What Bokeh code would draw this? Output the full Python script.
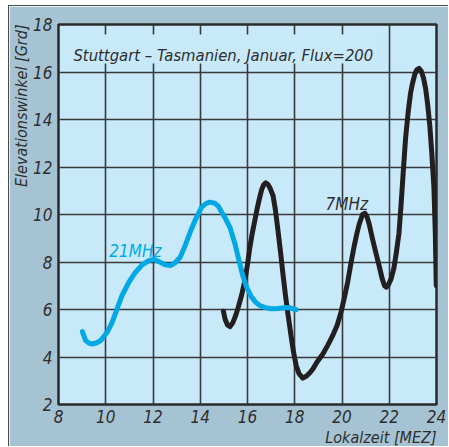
import math
from bokeh.plotting import figure
from bokeh.models import Label, BoxAnnotation, FixedTicker, Title
from bokeh.embed import file_html
from bokeh.resources import INLINE

# ---- data ----
x_ticks = [8, 10, 12, 14, 16, 18, 20, 22, 24]
y_ticks = [2, 4, 6, 8, 10, 12, 14, 16, 18]

mhz21_x = [9.01, 9.15, 9.3, 9.46, 9.62, 9.78, 10.06, 10.27, 10.48, 10.69, 10.98, 11.26, 11.54,
           11.82, 12.03, 12.24, 12.52, 12.73, 12.94, 13.15, 13.36, 13.57, 13.78, 14.06, 14.25,
           14.41, 14.6, 14.76, 14.905, 15.08, 15.26, 15.47, 15.64, 15.78, 15.96, 16.17, 16.35,
           16.52, 16.75, 17.01, 17.3, 17.57, 17.8, 18.06]
mhz21_y = [5.07, 4.69, 4.58, 4.55, 4.6, 4.69, 5.04, 5.46, 6.03, 6.59, 7.15, 7.57, 7.88,
           8.06, 8.11, 8.02, 7.88, 7.85, 7.97, 8.2, 8.69, 9.25, 9.75, 10.31, 10.47,
           10.52, 10.48, 10.36, 10.1, 9.8, 9.45, 8.77, 8.06, 7.5, 6.94, 6.52, 6.3,
           6.17, 6.08, 6.03, 6.04, 6.08, 6.07, 5.99]

mhz7_x = [14.98, 15.05, 15.15, 15.26, 15.38, 15.5, 15.61, 15.75, 15.89, 16.0, 16.1, 16.2,
          16.31, 16.42, 16.52, 16.6, 16.68, 16.77, 16.86, 16.95, 17.08, 17.18, 17.29, 17.4,
          17.5, 17.6, 17.71, 17.85, 17.95, 18.06, 18.18, 18.34, 18.5, 18.65, 18.77, 18.95,
          19.19, 19.4, 19.61, 19.8, 19.96, 20.1, 20.24, 20.38, 20.52, 20.63, 20.73, 20.87,
          20.97, 21.06, 21.15, 21.29, 21.43, 21.57, 21.7, 21.8, 21.88, 21.97, 22.08, 22.2,
          22.3, 22.41, 22.5, 22.6, 22.69, 22.8, 22.9, 22.98, 23.08, 23.17, 23.26, 23.35,
          23.45, 23.54, 23.63, 23.72, 23.8, 23.89, 23.95, 23.99]
mhz7_y = [5.93, 5.6, 5.35, 5.28, 5.45, 5.75, 6.1, 6.6, 7.22, 7.9, 8.62, 9.2,
          9.75, 10.3, 10.73, 11.05, 11.25, 11.33, 11.27, 11.12, 10.8, 10.2, 9.33, 8.4,
          7.5, 6.65, 5.82, 4.85, 4.2, 3.64, 3.3, 3.11, 3.2, 3.35, 3.5, 3.8,
          4.13, 4.5, 4.91, 5.35, 5.89, 6.5, 7.15, 7.95, 8.69, 9.2, 9.6, 10.0,
          10.05, 9.9, 9.6, 8.98, 8.4, 7.85, 7.3, 7.0, 6.94, 7.05, 7.3, 7.75,
          8.4, 9.2, 10.4, 11.9, 13.2, 14.3, 15.1, 15.5, 15.9, 16.1, 16.15, 16.05,
          15.75, 15.3, 14.6, 13.7, 12.6, 11.15, 9.2, 7.0]

title_text = "Stuttgart \u2013 Tasmanien, Januar, Flux=200"
xlabel = "Lokalzeit [MEZ]"
ylabel = "Elevationswinkel [Grd]"
label21 = "21MHz"
label7 = "7MHz"

FONT = "DejaVu Sans Condensed"
OUTER = "#a6c3d3"
INNER = "#c8e9f9"
BLUE = "#00a8e6"
BLACK = "#231f20"
TXT = "#2e2e2e"

p = figure(width=440, height=441, x_range=(8, 24), y_range=(2, 18),
           output_backend="svg", toolbar_location=None,
           min_border_left=47, min_border_right=13, min_border_top=18, min_border_bottom=43)
p.styles = {"margin-left": "8px", "margin-top": "5px",
            "border-left": "1px solid #4a4a4a", "border-top": "1px solid #4a4a4a"}
p.background_fill_color = INNER
p.border_fill_color = OUTER
p.outline_line_color = "#2a2a2a"
p.outline_line_width = 2.5

for ax in (p.xaxis[0], p.yaxis[0]):
    ax.axis_line_color = None
    ax.major_tick_line_color = None
    ax.minor_tick_line_color = None
    ax.major_tick_out = 0
    ax.major_tick_in = 0
    ax.minor_tick_out = 0
    ax.minor_tick_in = 0
    ax.major_label_text_font = FONT
    ax.major_label_text_font_style = "italic"
    ax.major_label_text_font_size = "17px"
    ax.major_label_text_color = TXT
p.xaxis[0].ticker = FixedTicker(ticks=x_ticks)
p.yaxis[0].ticker = FixedTicker(ticks=y_ticks)
p.xaxis[0].major_label_standoff = 5
p.yaxis[0].major_label_standoff = 6

p.grid.grid_line_color = "#3a3a3a"
p.grid.grid_line_width = 1.6
p.xgrid[0].ticker = FixedTicker(ticks=x_ticks)
p.ygrid[0].ticker = FixedTicker(ticks=y_ticks)

p.line(mhz7_x, mhz7_y, line_color=BLACK, line_width=5, line_join="round", line_cap="round")
p.line(mhz21_x, mhz21_y, line_color=BLUE, line_width=5, line_join="round", line_cap="round")

p.add_layout(BoxAnnotation(left=8.17, right=21.64, bottom=16.36, top=17.58,
                           fill_color=INNER, fill_alpha=1, line_alpha=0))
p.add_layout(Label(x=8.63, y=16.69, text=title_text, text_font=FONT, text_font_style="italic",
                   text_font_size="16.5px", text_color=TXT, text_baseline="alphabetic"))
p.add_layout(Label(x=10.15, y=8.48, text=label21, text_font=FONT, text_font_style="italic",
                   text_font_size="17px", text_color=BLUE, text_baseline="alphabetic"))
p.add_layout(Label(x=19.3, y=10.45, text=label7, text_font=FONT, text_font_style="italic",
                   text_font_size="17px", text_color=TXT, text_baseline="alphabetic"))

p.add_layout(Title(text=xlabel, align="right", text_font=FONT, text_font_style="italic",
                   text_font_size="16px", text_color=TXT, standoff=0), "below")
p.add_layout(Title(text=ylabel, align="right", text_font=FONT, text_font_style="italic",
                   text_font_size="16px", text_color=TXT, standoff=0), "left")

open("out.html", "w").write(file_html(p, INLINE))
